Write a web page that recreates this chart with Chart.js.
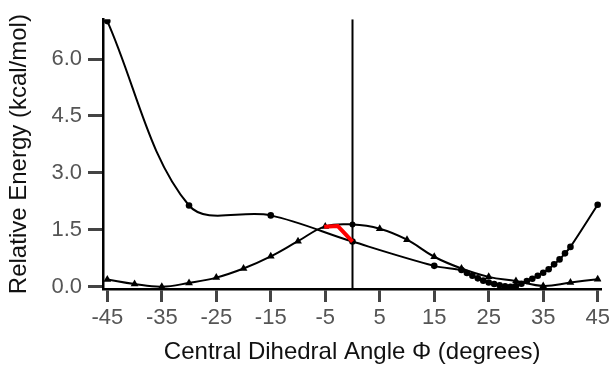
<!DOCTYPE html>
<html>
<head>
<meta charset="utf-8">
<script src="https://cdn.jsdelivr.net/npm/chart.js@4"></script>
<style>
  html, body { margin: 0; padding: 0; background: #fff; }
  #wrap { width: 613px; height: 365px; position: relative; }
</style>
</head>
<body>
<div id="wrap"><canvas id="c"></canvas></div>
<script>
// Energy scan along the central dihedral angle (kcal/mol)
const circleAngles = [-45, -30, -15, 0, 15, 20, 21, 22, 23, 24, 25, 26, 27, 28, 29, 30, 31, 32, 33, 34, 35, 36, 37, 38, 39, 40, 45];
const circleEnergies = [7.0, 2.14, 1.88, 1.19, 0.55, 0.44, 0.36, 0.29, 0.22, 0.16, 0.11, 0.07, 0.04, 0.01, 0.0, 0.02, 0.08, 0.15, 0.21, 0.29, 0.37, 0.46, 0.59, 0.72, 0.88, 1.05, 2.16];

const triangleAngles = [-45, -40, -35, -30, -25, -20, -15, -10, -5, 0, 5, 10, 15, 20, 25, 30, 35, 40, 45];
const triangleEnergies = [0.19, 0.07, 0.0, 0.1, 0.24, 0.48, 0.8, 1.2, 1.59, 1.64, 1.53, 1.24, 0.79, 0.48, 0.26, 0.15, 0.02, 0.11, 0.2];

// Highlighted path between the two curves
const pathAngles = [-5.2, -2.7, 0];
const pathEnergies = [1.58, 1.6, 1.19];

// Reference line at Φ = 0
const markerAngle = 0;

const xTicks = [-45, -35, -25, -15, -5, 5, 15, 25, 35, 45];
const yTicks = [0, 1.5, 3.0, 4.5, 6.0];
const xRange = [-45.79, 45.68];
const yRange = [-0.06, 7.05];

const toPoints = (xs, ys) => xs.map((x, i) => ({ x: x, y: ys[i] }));

const FONT = "'Liberation Sans', Arial, sans-serif";

new Chart(document.getElementById('c'), {
  type: 'scatter',
  data: {
    datasets: [
      {
        data: [{ x: markerAngle, y: yRange[0] }, { x: markerAngle, y: yRange[1] }],
        showLine: true,
        borderColor: '#000',
        borderWidth: 2,
        pointRadius: 0,
        tension: 0,
        order: 3
      },
      {
        data: toPoints(triangleAngles, triangleEnergies),
        showLine: true,
        borderColor: '#000',
        backgroundColor: '#000',
        borderWidth: 2,
        tension: 0.4,
        pointStyle: triangleAngles.map(a => a === 0 ? 'circle' : 'triangle'),
        pointRadius: triangleAngles.map(a => a === 0 ? 3 : 4.5),
        pointBorderWidth: 0,
        order: 2
      },
      {
        data: toPoints(circleAngles, circleEnergies),
        showLine: true,
        borderColor: '#000',
        backgroundColor: '#000',
        borderWidth: 2,
        tension: 0.35,
        pointStyle: 'circle',
        pointRadius: 3.3,
        pointBorderWidth: 0,
        order: 1
      },
      {
        data: toPoints(pathAngles, pathEnergies),
        showLine: true,
        borderColor: '#ff0000',
        borderWidth: 4,
        pointRadius: 0,
        tension: 0,
        borderJoinStyle: 'miter',
        order: 0
      }
    ]
  },
  options: {
    responsive: true,
    maintainAspectRatio: false,
    animation: false,
    layout: { padding: { left: 0, right: 10, top: 18, bottom: 0 } },
    plugins: { legend: { display: false }, tooltip: { enabled: false } },
    scales: {
      x: {
        type: 'linear',
        min: xRange[0],
        max: xRange[1],
        afterBuildTicks: s => { s.ticks = xTicks.map(v => ({ value: v })); },
        afterFit: s => { s.height = 76; },
        grid: { drawOnChartArea: false, drawTicks: true, tickLength: 13, tickWidth: 3, tickColor: '#444' },
        border: { display: true, color: '#000', width: 2.5 },
        ticks: {
          color: '#555',
          font: { family: FONT, size: 22 },
          padding: 3,
          maxRotation: 0,
          callback: v => String(v)
        },
        title: {
          display: true,
          text: 'Central Dihedral Angle Φ (degrees)',
          color: '#111',
          font: { family: FONT, size: 24 },
          padding: { top: 0, bottom: -2 }
        }
      },
      y: {
        type: 'linear',
        min: yRange[0],
        max: yRange[1],
        afterBuildTicks: s => { s.ticks = yTicks.map(v => ({ value: v })); },
        afterFit: s => { s.width = 103; },
        grid: { drawOnChartArea: false, drawTicks: true, tickLength: 15, tickWidth: 3, tickColor: '#444' },
        border: { display: true, color: '#000', width: 2.5 },
        ticks: {
          color: '#555',
          font: { family: FONT, size: 22 },
          padding: 6,
          callback: v => Number(v).toFixed(1)
        },
        title: {
          display: true,
          text: 'Relative Energy (kcal/mol)',
          color: '#111',
          font: { family: FONT, size: 24 },
          padding: { top: 5, bottom: 0 }
        }
      }
    }
  }
});
</script>
</body>
</html>
